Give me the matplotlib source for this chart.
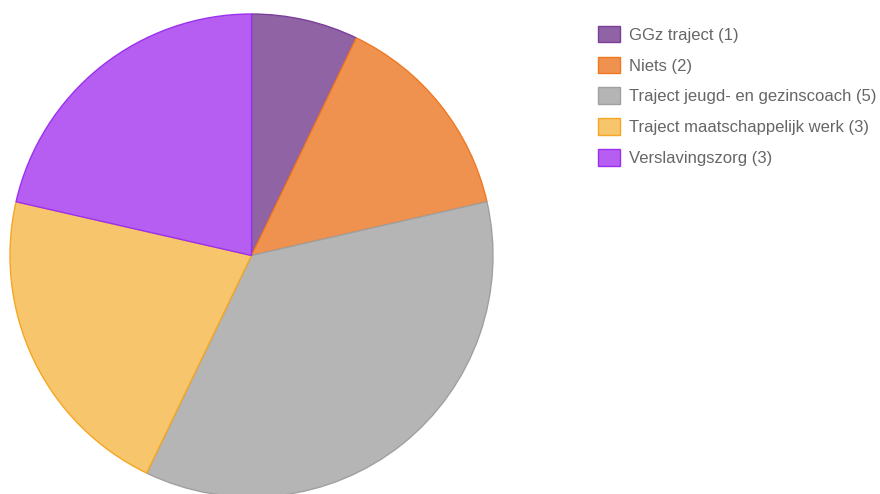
import matplotlib.pyplot as plt
from matplotlib.patches import Patch

labels = ["GGz traject", "Niets", "Traject jeugd- en gezinscoach",
          "Traject maatschappelijk werk", "Verslavingszorg"]
counts = [1, 2, 5, 3, 3]
fills = ["#9063a5", "#f0924f", "#b5b5b5", "#f7c56b", "#b65ef2"]
edges = ["#7b3f9a", "#f07820", "#a0a0a0", "#f5a623", "#9b30f0"]

plt.rcParams['font.family'] = ['Liberation Sans', 'DejaVu Sans']

W, H = 880, 494
fig = plt.figure(figsize=(W / 100, H / 100), dpi=100)

# pie centre ~ (251.5, 255.5) px, radius ~241.5 px
cx, cy, r = 251.5, 255.5, 241.5
ax = fig.add_axes([(cx - r) / W, (H - cy - r) / H, 2 * r / W, 2 * r / H])
wedges, _ = ax.pie(counts, colors=fills, startangle=90, counterclock=False,
                   radius=1, wedgeprops=dict(linewidth=1.0))
for w, ec in zip(wedges, edges):
    w.set_edgecolor(ec)
ax.set_xlim(-1, 1)
ax.set_ylim(-1, 1)
ax.set_aspect('equal')
ax.axis('off')

handles = [Patch(facecolor=f, edgecolor=e, linewidth=1.0) for f, e in zip(fills, edges)]
leg_labels = [f"{l} ({c})" for l, c in zip(labels, counts)]
fig.legend(handles, leg_labels, loc='upper left',
           bbox_to_anchor=(596 / W, 1 - 24 / H), frameon=False,
           fontsize=12, labelcolor='#666666', handlelength=1.32,
           handleheight=1.15, labelspacing=0.84, handletextpad=0.55,
           borderaxespad=0, borderpad=0.1)

fig.savefig("out.png", dpi=100, facecolor='white')
